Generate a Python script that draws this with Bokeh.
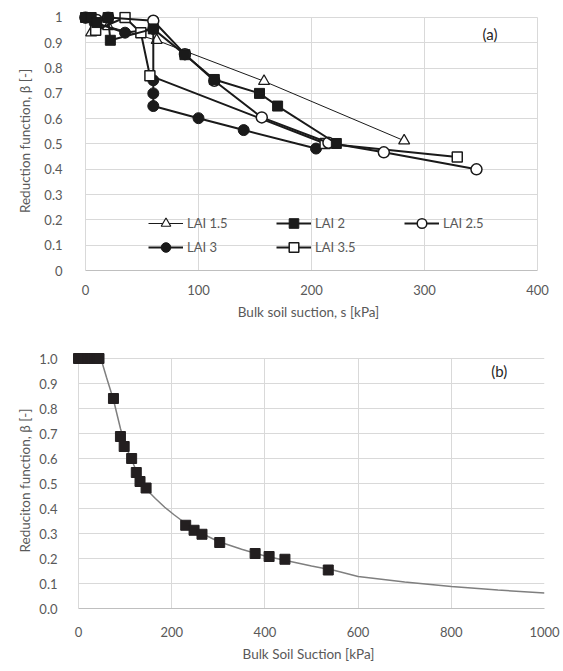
from bokeh.plotting import figure
from bokeh.layouts import column
from bokeh.models import (Range1d, FixedTicker, Legend, LegendItem, Label,
                          CustomJSTickFormatter, NumeralTickFormatter)
from bokeh.embed import file_html
from bokeh.resources import INLINE

FONT = "Lato"
TXT = "#595959"
GRID = "#d9d9d9"
AXIS = "#bfbfbf"
INK = "#1a1a1a"

# ---------------- panel (a) data ----------------
lai15_x = [5, 20, 63, 158, 282]
lai15_y = [0.94, 0.965, 0.91, 0.748, 0.513]
lai2_x = [0, 5, 10, 20, 22, 60, 88, 114, 154, 170, 222]
lai2_y = [1.0, 1.0, 0.98, 1.0, 0.91, 0.955, 0.853, 0.755, 0.70, 0.65, 0.502]
lai25_x = [0, 10, 20, 60, 88, 114, 156, 215, 264, 346]
lai25_y = [1.0, 0.99, 1.0, 0.987, 0.855, 0.75, 0.605, 0.505, 0.467, 0.40]
lai3_x = [0, 8, 35, 60, 60, 60, 60, 100, 140, 204]
lai3_y = [1.0, 0.98, 0.94, 0.955, 0.752, 0.70, 0.65, 0.602, 0.555, 0.482]
lai35_x = [9, 35, 49, 57, 212, 329]
lai35_y = [0.95, 1.0, 0.94, 0.77, 0.502, 0.449]

a_xticks = [0, 100, 200, 300, 400]
a_yticks = [0, 0.1, 0.2, 0.3, 0.4, 0.5, 0.6, 0.7, 0.8, 0.9, 1.0]

# ---------------- panel (b) data ----------------
meas_x = [0, 5, 10, 15, 20, 25, 30, 35, 40, 44, 75, 90, 98, 114, 124, 132, 145,
          230, 248, 265, 303, 379, 409, 443, 536]
meas_y = [1, 1, 1, 1, 1, 1, 1, 1, 1, 1, 0.84, 0.688, 0.648, 0.60, 0.544, 0.508, 0.482,
          0.333, 0.313, 0.297, 0.264, 0.22, 0.208, 0.197, 0.154]
fit_x = [0, 48, 60, 75, 90, 100, 115, 130, 145, 165, 185, 205, 230, 265, 300, 350,
         400, 450, 500, 550, 600, 700, 800, 900, 1000]
fit_y = [1.0, 1.0, 0.925, 0.835, 0.72, 0.655, 0.59, 0.525, 0.478, 0.44, 0.405, 0.375,
         0.34, 0.30, 0.268, 0.237, 0.21, 0.19, 0.17, 0.152, 0.128, 0.106, 0.088,
         0.074, 0.062]

b_xticks = [0, 200, 400, 600, 800, 1000]
b_yticks = a_yticks


def style(p, xticks, yticks, xmax, ymax, xlabel, ylabel,
          xl_stand, xal_stand, yl_stand, yal_stand):
    p.outline_line_color = None
    p.background_fill_color = "white"
    p.xaxis.ticker = FixedTicker(ticks=xticks)
    p.yaxis.ticker = FixedTicker(ticks=yticks)
    p.xgrid.ticker = FixedTicker(ticks=xticks)
    p.ygrid.ticker = FixedTicker(ticks=yticks)
    for g in (p.xgrid, p.ygrid):
        g.grid_line_color = GRID
        g.grid_line_width = 1
    p.xgrid.cross_bounds = (0, ymax)
    p.ygrid.cross_bounds = (0, xmax)
    for ax in (p.xaxis, p.yaxis):
        ax.major_tick_line_color = None
        ax.minor_tick_line_color = None
        ax.major_label_text_font = FONT
        ax.major_label_text_font_size = "13px"
        ax.major_label_text_color = TXT
        ax.axis_label_text_font = FONT
        ax.axis_label_text_font_size = "13.5px"
        ax.axis_label_text_font_style = "normal"
        ax.axis_label_text_color = TXT
    p.xaxis.axis_line_color = AXIS
    p.xaxis.bounds = (0, xmax)
    p.yaxis.axis_line_color = None
    p.xaxis.axis_label = xlabel
    p.yaxis.axis_label = ylabel
    p.xaxis.major_label_standoff = xl_stand
    p.xaxis.axis_label_standoff = xal_stand
    p.yaxis.major_label_standoff = yl_stand
    p.yaxis.axis_label_standoff = yal_stand


# ---------------- figure (a) ----------------
pa = figure(width=563, height=328, output_backend="svg", toolbar_location=None,
            x_range=Range1d(-11.5, 406.2), y_range=Range1d(0, 1.0237),
            min_border_left=72, min_border_right=19, min_border_top=11,
            min_border_bottom=58)
style(pa, a_xticks, a_yticks, 400, 1.0, "Bulk soil suction, s [kPa]",
      "Reduction function, \u03b2 [-]", 8, 6, 4, 8)
pa.yaxis.formatter = CustomJSTickFormatter(
    code="return (Math.round(tick*10)/10).toString();")

r = {}
l = pa.line(lai15_x, lai15_y, line_color=INK, line_width=1)
s = pa.scatter(lai15_x, lai15_y, marker="triangle", size=11, fill_color="white",
               line_color=INK, line_width=1.2)
r["LAI 1.5"] = [l, s]
l = pa.line(lai3_x, lai3_y, line_color=INK, line_width=2)
s = pa.scatter(lai3_x, lai3_y, marker="circle", size=11, fill_color=INK,
               line_color=INK)
r["LAI 3"] = [l, s]
l = pa.line(lai35_x, lai35_y, line_color=INK, line_width=2)
s = pa.scatter(lai35_x, lai35_y, marker="square", size=10, fill_color="white",
               line_color=INK, line_width=1.5)
r["LAI 3.5"] = [l, s]
l = pa.line(lai25_x, lai25_y, line_color=INK, line_width=2)
s = pa.scatter(lai25_x, lai25_y, marker="circle", size=11, fill_color="white",
               line_color=INK, line_width=1.5)
r["LAI 2.5"] = [l, s]
l = pa.line(lai2_x, lai2_y, line_color=INK, line_width=2)
s = pa.scatter(lai2_x, lai2_y, marker="square", size=10, fill_color=INK,
               line_color=INK)
r["LAI 2"] = [l, s]

order = ["LAI 1.5", "LAI 2", "LAI 2.5", "LAI 3", "LAI 3.5"]
legend = Legend(items=[LegendItem(label=k, renderers=r[k]) for k in order],
                location=(76, 11), orientation="horizontal", ncols=3,
                glyph_width=35, glyph_height=24, label_height=15, label_width=89,
                label_standoff=4, spacing=-5, padding=0, margin=0,
                background_fill_alpha=0, border_line_color=None,
                label_text_font=FONT, label_text_font_size="13px",
                label_text_color=TXT)
pa.add_layout(legend)
pa.add_layout(Label(x=358, y=0.936, text="(a)", text_font=FONT,
                    text_font_size="15px", text_align="center",
                    text_baseline="middle", text_color="#262626"))

# ---------------- figure (b) ----------------
pb = figure(width=563, height=343, output_backend="svg", toolbar_location=None,
            x_range=Range1d(-12.9, 1000), y_range=Range1d(0, 1.024),
            min_border_left=72, min_border_right=19, min_border_top=24,
            min_border_bottom=63)
style(pb, b_xticks, b_yticks, 1000, 1.0, "Bulk Soil Suction [kPa]",
      "Reduciton function, \u03b2 [-]", 12, 6, 9, 3)
pb.yaxis.formatter = NumeralTickFormatter(format="0.0")
pb.line(fit_x, fit_y, line_color="#7f7f7f", line_width=1.5)
pb.scatter(meas_x, meas_y, marker="square", size=10, fill_color="#231f20",
           line_color="#231f20")
pb.add_layout(Label(x=903, y=0.95, text="(b)", text_font=FONT,
                    text_font_size="15px", text_align="center",
                    text_baseline="middle", text_color="#262626"))

layout = column(pa, pb, spacing=0)
open("out.html", "w").write(file_html(layout, INLINE))
